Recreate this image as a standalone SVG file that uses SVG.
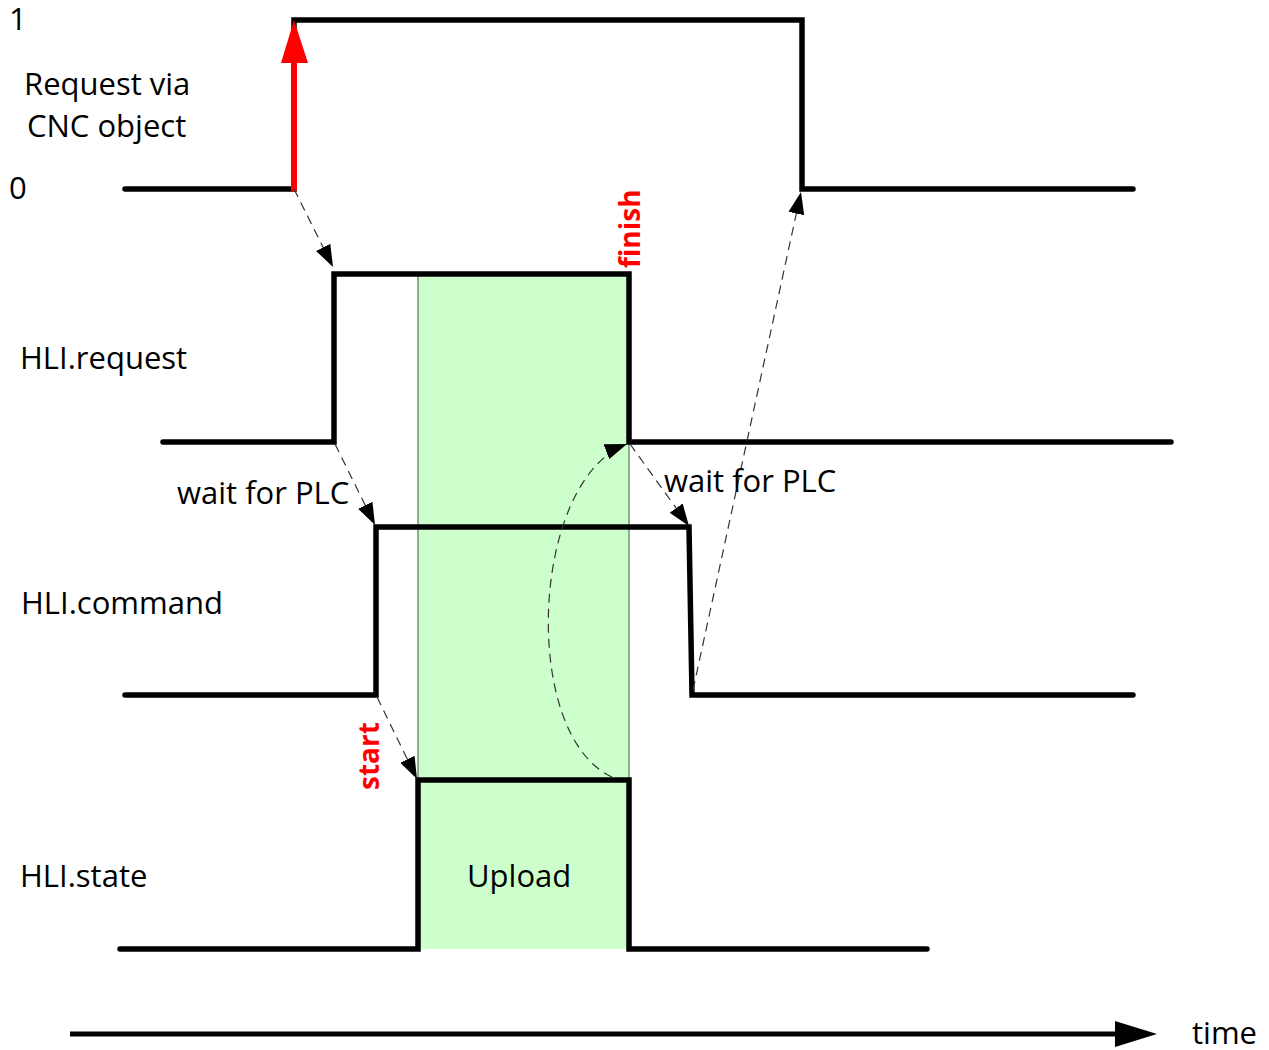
<svg xmlns="http://www.w3.org/2000/svg" width="1269" height="1050" viewBox="0 0 1269 1050">
<style>
text{font-family:"Open Sans","Liberation Sans",sans-serif;font-size:31px;fill:#000}
.red{fill:#ff0000;font-weight:bold;font-size:28px}
.sig{fill:none;stroke:#000;stroke-width:5.5;stroke-linejoin:miter;stroke-linecap:round}
.dash{fill:none;stroke:#333;stroke-width:1.2;stroke-dasharray:9,6}
</style>
<defs>
<marker id="ah" viewBox="0 0 22 16" refX="22" refY="8" markerWidth="22" markerHeight="16" markerUnits="userSpaceOnUse" orient="auto">
<path d="M0,0 L22,8 L0,16 Z" fill="#000"/>
</marker>
</defs>
<rect x="418" y="274" width="211" height="675" fill="#ccffcc"/>
<line x1="418" y1="274" x2="418" y2="949" stroke="#3a5a3a" stroke-width="1"/>
<line x1="629" y1="274" x2="629" y2="949" stroke="#3a5a3a" stroke-width="1"/>
<g id="request">
<polyline class="sig" points="125,189 294,189 294,20 802,20 802,189 1133,189"/>
<line x1="294" y1="189" x2="294" y2="60" stroke="#ff0000" stroke-width="6" stroke-linecap="round"/>
<path d="M281,63 L294,20 L308,63 Z" fill="#ff0000"/>
<text x="9" y="30">1</text>
<text x="9" y="199">0</text>
<text x="24" y="95">Request via</text>
<text x="27" y="137">CNC object</text>
</g>
<g id="hli-request">
<polyline class="sig" points="163,442 334,442 334,274 629,274 629,442 1171,442"/>
<text x="20" y="369">HLI.request</text>
<text class="red" transform="translate(640,268) rotate(-90)">finish</text>
</g>
<g id="hli-command">
<polyline class="sig" points="125,695 376,695 376,527 689,527 692,695 1133,695"/>
<text x="21" y="614">HLI.command</text>
</g>
<g id="hli-state">
<polyline class="sig" points="120,949 418,949 418,780 629,780 629,949 927,949"/>
<text x="20" y="887">HLI.state</text>
<text x="467" y="887">Upload</text>
<text class="red" transform="translate(379,790) rotate(-90)">start</text>
</g>
<g id="connectors">
<line class="dash" x1="294" y1="189" x2="333" y2="267" marker-end="url(#ah)"/>
<line class="dash" x1="335" y1="444" x2="375" y2="525" marker-end="url(#ah)"/>
<line class="dash" x1="377" y1="697" x2="417" y2="779" marker-end="url(#ah)"/>
<line class="dash" x1="630" y1="444" x2="689" y2="526" marker-end="url(#ah)"/>
<line class="dash" x1="693" y1="690" x2="801" y2="192" marker-end="url(#ah)"/>
<path class="dash" d="M612,777 C520,735 530,480 627,444" marker-end="url(#ah)"/>
<text x="177" y="504">wait for PLC</text>
<text x="664" y="492">wait for PLC</text>
</g>
<g id="time-axis">
<line x1="70" y1="1034" x2="1120" y2="1034" stroke="#000" stroke-width="5"/>
<path d="M1115,1021 L1157,1034 L1115,1047 Z" fill="#000"/>
<text x="1192" y="1044">time</text>
</g>
</svg>
